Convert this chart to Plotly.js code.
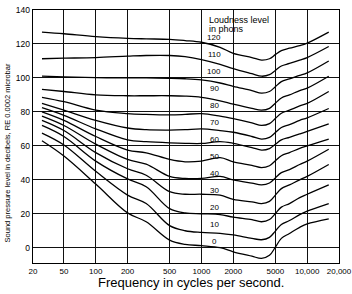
<!DOCTYPE html>
<html><head><meta charset="utf-8">
<script src="https://cdn.plot.ly/plotly-3.0.1.min.js"></script>
<style>html,body{margin:0;padding:0;background:#fff;} #chart{width:352px;height:294px;}</style>
</head><body><div id="chart"></div>
<script>
// Frequencies (Hz) at which each loudness contour was read
const freqs = [31, 50, 100, 200, 300, 500, 700, 1000, 1500, 2000, 3000, 3700, 4400, 5000, 5700, 6800, 8500, 10000, 16000];
// Sound pressure level (dB) for each loudness level (phons)
const phon120 = [127, 126, 124.3, 123.3, 123, 122.7, 122, 121, 118, 114.5, 112, 110.5, 111.3, 113.7, 116.1, 117.5, 119, 120.5, 127];
const phon110 = [111.3, 111.6, 112, 112.8, 113.2, 113.2, 112.5, 110.8, 108, 105.5, 102.5, 101, 101.9, 104.4, 107, 108.5, 110.5, 112, 118.5];
const phon100 = [101, 100.6, 100.2, 100, 100, 99.8, 99.5, 98.8, 97, 95, 92.5, 91, 92, 94.8, 97.8, 99.5, 101.5, 103, 110];
const phon90  = [93.3, 92, 90, 89.5, 89.5, 89.5, 89.3, 88.6, 86.5, 84.5, 82, 81, 82.1, 85.1, 88.2, 90, 92.5, 94, 101];
const phon80  = [88.6, 86, 81, 79, 78.5, 78.2, 78.5, 79, 77.5, 76, 73.5, 72, 73.1, 76.1, 79.2, 81, 83.5, 85, 92];
const phon70  = [85, 81, 75, 70.5, 69.5, 69.3, 69.5, 70, 69, 68, 65.5, 64, 65, 67.8, 70.8, 72.5, 75, 76.5, 82];
const phon60  = [82.5, 78, 70, 63.5, 62.5, 61.8, 61.5, 61.4, 62.5, 61.5, 59, 57.5, 58.4, 60.9, 63.5, 65, 67, 68.5, 73];
const phon50  = [80, 75, 65.5, 57.5, 55.9, 52, 50.6, 51, 53, 50.6, 48.5, 47.2, 48.3, 51.2, 54.2, 56, 58.5, 60, 64];
const phon40  = [77.5, 72, 61, 52, 49.2, 42, 40.8, 40.8, 42, 40, 38, 37, 38.1, 41.1, 44.2, 46, 49, 51, 58];
const phon30  = [75, 69, 56, 46.5, 42.7, 33, 31.5, 31.5, 31, 28.5, 27, 26, 27.3, 31, 34.8, 37, 40, 42, 49];
const phon20  = [72, 65.5, 51, 40.5, 35.9, 23, 20.5, 20, 19.5, 18, 16.5, 15.3, 16.6, 20.1, 23.9, 26, 29.5, 31.5, 37];
const phon10  = [67.5, 60.5, 45, 31, 26, 13, 10, 9, 8.5, 7.5, 5.5, 4.7, 6.1, 9.8, 13.7, 16, 19.5, 21.5, 26];
const phon0   = [63, 54, 37.5, 20.5, 15.3, 4.5, 2, 1.2, 0, -2.4, -5, -6.3, -4.5, 0.3, 5.5, 8.4, 12, 14, 17];

const phonLevels = [120, 110, 100, 90, 80, 70, 60, 50, 40, 30, 20, 10, 0];
const curves = [phon120, phon110, phon100, phon90, phon80, phon70, phon60, phon50, phon40, phon30, phon20, phon10, phon0];

// Axis ticks
const xTickVals = [25.5, 50, 100, 200, 500, 1000, 2000, 5000, 10000, 20000];
const xTickText = ['20', '50', '100', '200', '500', '1000', '2000', '5000', '10,000', '20,000'];
const yTickVals = [0, 20, 40, 60, 80, 100, 120, 140];

const FONT = 'Liberation Sans, Arial, sans-serif';

const traces = curves.map((ys, i) => ({
  x: freqs, y: ys, mode: 'lines', type: 'scatter',
  line: {color: '#000', width: 1.3, shape: 'spline', smoothing: 1},
  hoverinfo: 'skip', showlegend: false, name: phonLevels[i] + ' phons'
}));

const labelX = Math.log10(1315);
const annotations = phonLevels.map(p => ({
  x: labelX, y: p + 3.6, xref: 'x', yref: 'y', text: String(p), showarrow: false,
  xanchor: 'center', yanchor: 'middle', font: {family: FONT, size: 8, color: '#000'}
}));
annotations.push(
  {x: Math.log10(1130), y: 134.3, xref: 'x', yref: 'y', text: 'Loudness level', showarrow: false,
   xanchor: 'left', yanchor: 'middle', font: {family: FONT, size: 9, color: '#000'}},
  {x: Math.log10(1130), y: 128.8, xref: 'x', yref: 'y', text: 'in phons', showarrow: false,
   xanchor: 'left', yanchor: 'middle', font: {family: FONT, size: 9, color: '#000'}},
  {x: 0.516, y: -0.079, xref: 'paper', yref: 'paper', text: 'Frequency in cycles per second.', showarrow: false,
   xanchor: 'center', yanchor: 'middle', font: {family: FONT, size: 13, color: '#000'}},
  {x: -0.085, y: 0.437, xref: 'paper', yref: 'paper', text: 'Sound pressure level in decibels, RE 0.0002 microbar',
   textangle: -90, showarrow: false, xanchor: 'center', yanchor: 'middle',
   font: {family: FONT, size: 7.5, color: '#000'}}
);

const layout = {
  width: 352, height: 294,
  margin: {l: 33, r: 13, t: 10, b: 31, pad: 0},
  paper_bgcolor: '#fff', plot_bgcolor: '#fff',
  showlegend: false,
  xaxis: {
    type: 'log', range: [Math.log10(25.5), Math.log10(20000)],
    tickmode: 'array', tickvals: xTickVals, ticktext: xTickText,
    tickfont: {family: FONT, size: 8, color: '#000'},
    showgrid: true, gridcolor: '#111', gridwidth: 1,
    showline: true, linecolor: '#000', linewidth: 1.3, mirror: true,
    ticks: '', zeroline: false, fixedrange: true
  },
  yaxis: {
    range: [-9, 140], tickmode: 'array', tickvals: yTickVals,
    tickfont: {family: FONT, size: 8.5, color: '#000'},
    showgrid: true, gridcolor: '#111', gridwidth: 1,
    showline: true, linecolor: '#000', linewidth: 1.3, mirror: true,
    ticks: '', zeroline: false, fixedrange: true
  },
  shapes: [{
    type: 'rect', xref: 'x', yref: 'y', x0: 3, x1: 4, y0: 120, y1: 140,
    fillcolor: '#fff', line: {color: '#000', width: 1}, layer: 'between'
  }],
  annotations: annotations
};

Plotly.newPlot('chart', traces, layout, {staticPlot: true, displayModeBar: false});
</script>
</body></html>
